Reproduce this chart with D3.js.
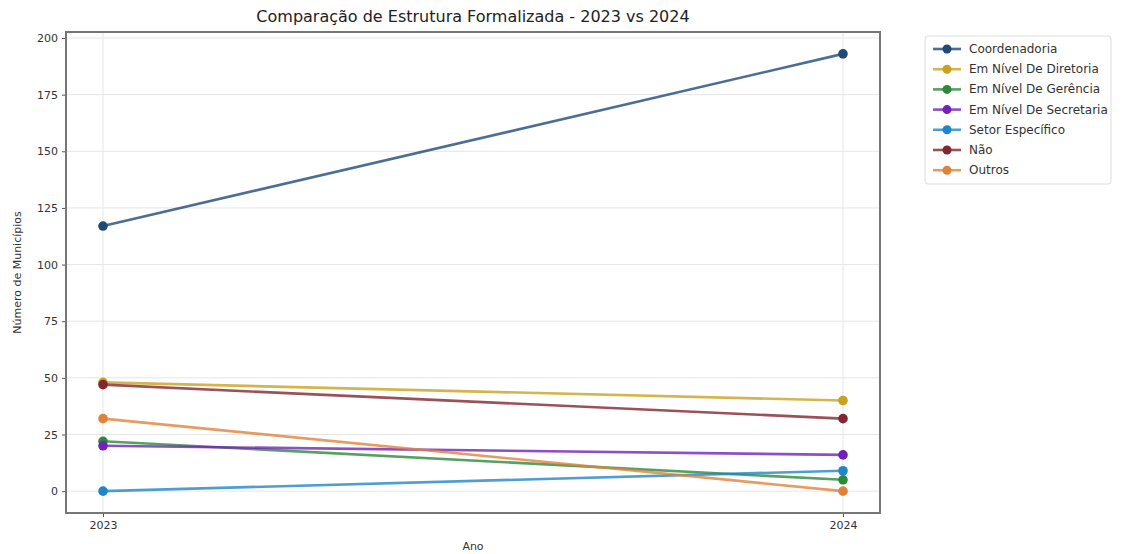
<!DOCTYPE html>
<html><head><meta charset="utf-8">
<script src="https://cdn.jsdelivr.net/npm/d3@7"></script>
<style>body{margin:0;background:#fff;font-family:"DejaVu Sans",sans-serif;}</style>
</head><body><svg id="c" width="1125" height="554"></svg>
<script>
const years = [2023, 2024];
const categories = ["Coordenadoria","Em Nível De Diretoria","Em Nível De Gerência","Em Nível De Secretaria","Setor Específico","Não","Outros"];
const coordenadoria = [117, 193];
const diretoria = [48, 40];
const gerencia = [22, 5];
const secretaria = [20, 16];
const setor = [0, 9];
const nao = [47, 32];
const outros = [32, 0];
const colors = ["#1f4a78","#c9a21f","#2a8a3a","#7222b8","#1f86c8","#83262f","#e0823a"];
const yTicks = [0,25,50,75,100,125,150,175,200];
const seriesValues = [coordenadoria, diretoria, gerencia, secretaria, setor, nao, outros];

const svg = d3.select("#c");
const L=66,R=880,T=32,B=513;
const x = d3.scaleLinear().domain([2023-0.05,2024+0.05]).range([L,R]);
const y = d3.scaleLinear().domain([-9.65,202.65]).range([B,T]);

// grid
svg.append("g").selectAll("line").data(yTicks).join("line")
 .attr("x1",L).attr("x2",R).attr("y1",d=>y(d)).attr("y2",d=>y(d))
 .attr("stroke","#e6e6e6").attr("stroke-width",1);
svg.append("g").selectAll("line").data(years).join("line")
 .attr("y1",T).attr("y2",B).attr("x1",d=>x(d)).attr("x2",d=>x(d))
 .attr("stroke","#e6e6e6").attr("stroke-width",1);

// axes
const ya = svg.append("g").attr("transform",`translate(${L},0)`)
 .call(d3.axisLeft(y).tickValues(yTicks).tickSize(4).tickPadding(4));
const xa = svg.append("g").attr("transform",`translate(0,${B})`)
 .call(d3.axisBottom(x).tickValues(years).tickFormat(d3.format("d")).tickSize(4).tickPadding(4));
[ya,xa].forEach(a=>{a.select(".domain").remove();a.selectAll("text").attr("font-size",11).attr("fill","#333").attr("font-family","DejaVu Sans");a.selectAll("line").attr("stroke","#555");});

// frame
svg.append("rect").attr("x",L).attr("y",T).attr("width",R-L).attr("height",B-T)
 .attr("fill","none").attr("stroke","#777").attr("stroke-width",2);

// lines
const line = d3.line().x((d,i)=>x(years[i])).y(d=>y(d));
seriesValues.forEach((vals,k)=>{
  svg.append("path").datum(vals).attr("d",line).attr("fill","none")
   .attr("stroke",colors[k]).attr("stroke-width",2.6).attr("stroke-opacity",0.8);
  svg.append("g").selectAll("circle").data(vals).join("circle")
   .attr("cx",(d,i)=>x(years[i])).attr("cy",d=>y(d)).attr("r",4.8).attr("fill",colors[k]);
});

// title & labels
svg.append("text").attr("x",(L+R)/2).attr("y",22).attr("text-anchor","middle")
 .attr("font-size",16).attr("fill","#222").text("Comparação de Estrutura Formalizada - 2023 vs 2024");
svg.append("text").attr("x",(L+R)/2).attr("y",550).attr("text-anchor","middle")
 .attr("font-size",11).attr("fill","#333").text("Ano");
svg.append("text").attr("transform",`translate(21,${(T+B)/2}) rotate(-90)`).attr("text-anchor","middle")
 .attr("font-size",11).attr("fill","#333").text("Número de Municípios");

// legend
const lg = svg.append("g").attr("transform","translate(925,36)");
lg.append("rect").attr("width",186).attr("height",148).attr("rx",3).attr("fill","#fff")
 .attr("stroke","#ddd");
categories.forEach((c,k)=>{
  const yy = 13 + k*20.2;
  lg.append("line").attr("x1",8).attr("x2",36).attr("y1",yy).attr("y2",yy)
   .attr("stroke",colors[k]).attr("stroke-width",2.6).attr("stroke-opacity",0.8);
  lg.append("circle").attr("cx",22).attr("cy",yy).attr("r",4.5).attr("fill",colors[k]);
  lg.append("text").attr("x",44).attr("y",yy+4).attr("font-size",12).attr("fill","#333").text(c);
});
</script></body></html>
